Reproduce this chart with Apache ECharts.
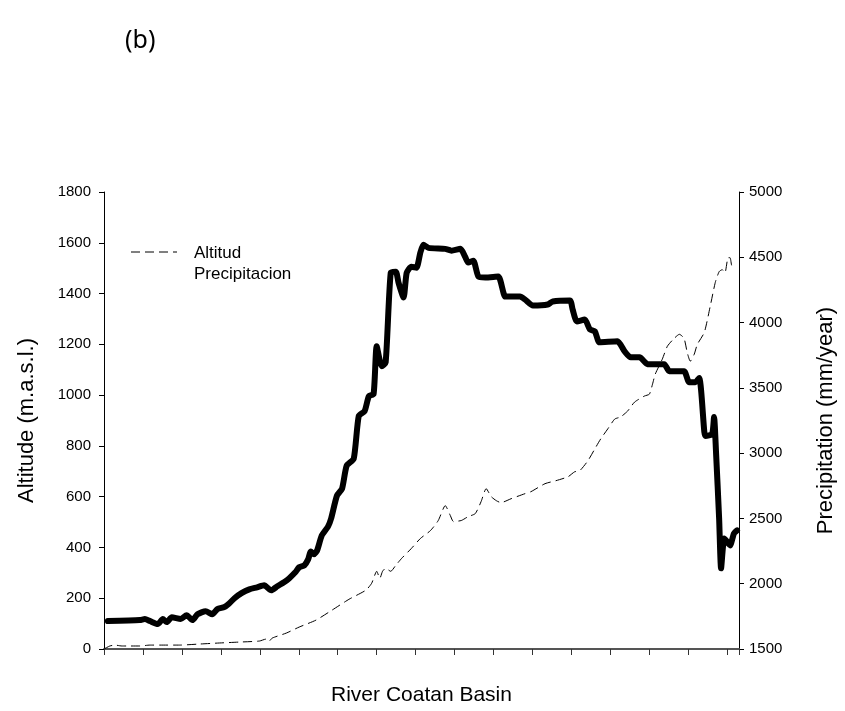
<!DOCTYPE html>
<html>
<head>
<meta charset="utf-8">
<title>River Coatan Basin profile</title>
<script src="https://cdn.jsdelivr.net/npm/echarts@6/dist/echarts.min.js"></script>
<style>
  html, body { margin: 0; padding: 0; background: #fff; }
  #chart { width: 845px; height: 711px; }
</style>
</head>
<body>
<div id="chart"></div>
<script>
// Position along the basin (arbitrary units, ticks every 10) and altitude in m a.s.l.
const altDistance = [1.0, 9.2, 10.5, 11.8, 13.8, 15.1, 16.1, 17.4, 19.7, 21.2, 22.7, 24.0, 26.1, 27.8, 29.1, 30.9, 31.9, 33.5, 35.3, 37.3, 39.3, 41.1, 42.9, 44.5, 46.2, 47.5, 49.1, 50.1, 51.4, 52.4, 53.1, 53.9, 54.7, 55.9, 57.5, 58.3, 59.8, 61.1, 62.3, 64.1, 65.4, 66.9, 68.0, 69.2, 70.0, 71.3, 72.3, 73.6, 74.9, 75.6, 76.9, 77.7, 78.9, 80.2, 81.2, 82.0, 83.3, 87.6, 89.2, 91.5, 92.7, 93.5, 94.8, 96.1, 97.9, 101.2, 103.0, 104.5, 106.8, 108.1, 110.1, 113.9, 115.2, 119.6, 120.3, 121.4, 123.4, 124.7, 126.0, 127.2, 131.8, 133.6, 135.2, 137.5, 139.5, 143.8, 145.1, 148.9, 150.2, 151.8, 152.8, 154.1, 154.4, 156.1, 156.6, 157.1, 157.9, 158.4, 159.2, 159.9, 160.7, 161.7, 162.5];
const altitude = [110, 114, 118, 110, 98, 118, 106, 125, 118, 133, 114, 137, 149, 137, 157, 165, 176, 200, 220, 235, 243, 251, 231, 247, 263, 278, 302, 322, 329, 353, 384, 373, 388, 447, 482, 514, 604, 631, 722, 749, 918, 937, 996, 1004, 1192, 1114, 1129, 1482, 1486, 1443, 1384, 1482, 1506, 1502, 1561, 1592, 1580, 1576, 1569, 1576, 1545, 1522, 1529, 1467, 1463, 1467, 1388, 1388, 1388, 1376, 1353, 1357, 1369, 1373, 1337, 1290, 1298, 1259, 1251, 1208, 1212, 1173, 1149, 1149, 1122, 1122, 1094, 1094, 1051, 1051, 1067, 855, 839, 847, 914, 776, 514, 318, 435, 424, 408, 455, 467];

// Position along the basin and annual precipitation in mm/year
const precDistance = [0.0, 1.5, 2.8, 4.6, 6.6, 9.2, 11.8, 14.3, 19.4, 24.5, 29.6, 34.7, 39.9, 41.6, 42.4, 43.2, 46.8, 50.1, 54.4, 58.5, 62.9, 67.2, 68.7, 70.0, 70.8, 71.5, 72.3, 73.6, 74.9, 76.4, 78.9, 81.2, 83.8, 85.8, 87.6, 88.9, 89.7, 91.7, 93.5, 95.3, 96.8, 98.1, 99.4, 100.7, 101.9, 104.5, 108.1, 109.6, 113.2, 116.0, 119.1, 120.8, 122.1, 124.2, 126.0, 127.5, 129.3, 131.1, 132.6, 134.4, 136.2, 138.7, 140.0, 140.8, 141.5, 143.3, 144.6, 146.1, 147.7, 148.9, 149.7, 150.5, 151.5, 152.3, 154.1, 155.6, 156.9, 157.9, 158.7, 159.4, 160.2, 160.7, 161.2, 162.0];
const precipitation = [1500, 1523, 1530, 1523, 1523, 1523, 1530, 1530, 1530, 1538, 1546, 1553, 1561, 1576, 1561, 1584, 1622, 1668, 1721, 1797, 1881, 1950, 2003, 2095, 2041, 2095, 2118, 2095, 2141, 2194, 2270, 2346, 2407, 2484, 2598, 2522, 2476, 2484, 2514, 2537, 2629, 2728, 2667, 2636, 2621, 2651, 2690, 2705, 2766, 2789, 2819, 2857, 2865, 2941, 3033, 3109, 3185, 3261, 3277, 3322, 3391, 3437, 3452, 3528, 3605, 3719, 3818, 3871, 3910, 3879, 3772, 3704, 3757, 3833, 3925, 4123, 4306, 4390, 4405, 4382, 4497, 4497, 4428, 4420];

const legendLabels = ['Altitud', 'Precipitacion'];

const altitudeSeries = altDistance.map((d, i) => [d, altitude[i]]);
const precipitationSeries = precDistance.map((d, i) => [d, precipitation[i]]);

const chart = echarts.init(document.getElementById('chart'), null, { renderer: 'canvas' });

const sans = 'Liberation Sans, Arial, sans-serif';
const axisFont = { fontFamily: sans, color: '#000' };
const plainNumber = v => String(v);

chart.setOption({
  animation: false,
  backgroundColor: '#fff',
  grid: { left: 104, right: 103, top: 192, bottom: 60, containLabel: false },
  xAxis: {
    type: 'value',
    min: 0,
    max: 163,
    interval: 10,
    name: 'River Coatan Basin',
    nameLocation: 'middle',
    nameGap: 36,
    nameTextStyle: Object.assign({ fontSize: 21 }, axisFont),
    axisLine: { show: true, lineStyle: { color: '#555', width: 2 } },
    axisTick: { show: true, inside: false, length: 6, lineStyle: { color: '#333', width: 1 } },
    axisLabel: { show: false },
    splitLine: { show: false }
  },
  yAxis: [
    {
      type: 'value',
      position: 'left',
      min: 0,
      max: 1800,
      interval: 200,
      name: 'Altitude (m.a.s.l.)',
      nameLocation: 'middle',
      nameGap: 66,
      nameTextStyle: Object.assign({ fontSize: 22 }, axisFont),
      axisLine: { show: true, lineStyle: { color: '#000', width: 1 } },
      axisTick: { show: true, inside: false, length: 5, lineStyle: { color: '#000' } },
      axisLabel: Object.assign({ fontSize: 15, margin: 13, formatter: plainNumber }, axisFont),
      splitLine: { show: false }
    },
    {
      type: 'value',
      position: 'right',
      min: 1500,
      max: 5000,
      interval: 500,
      name: 'Precipitation (mm/year)',
      nameLocation: 'middle',
      nameGap: 76,
      nameRotate: 90,
      nameTextStyle: Object.assign({ fontSize: 22 }, axisFont),
      axisLine: { show: true, lineStyle: { color: '#000', width: 1 } },
      axisTick: { show: true, inside: false, length: 5, lineStyle: { color: '#000' } },
      axisLabel: Object.assign({ fontSize: 15, margin: 10, formatter: plainNumber }, axisFont),
      splitLine: { show: false }
    }
  ],
  graphic: [
    {
      type: 'text',
      left: 125,
      top: 28,
      style: { text: '(b)', fontSize: 25, fontFamily: 'Noto Sans, Open Sans, sans-serif', fill: '#000' }
    },
    {
      type: 'line',
      shape: { x1: 131, y1: 252, x2: 177, y2: 252 },
      style: { stroke: '#000', lineWidth: 1, lineDash: [9, 5] }
    },
    {
      type: 'text',
      left: 194,
      top: 245,
      style: { text: legendLabels[0], fontSize: 17, fontFamily: sans, fill: '#000' }
    },
    {
      type: 'text',
      left: 194,
      top: 266,
      style: { text: legendLabels[1], fontSize: 17, fontFamily: sans, fill: '#000' }
    }
  ],
  series: [
    {
      name: 'Precipitation',
      type: 'line',
      yAxisIndex: 1,
      data: precipitationSeries,
      showSymbol: false,
      smooth: 0.2,
      lineStyle: { color: '#000', width: 1, type: [9, 5] },
      z: 2
    },
    {
      name: 'Altitude',
      type: 'line',
      yAxisIndex: 0,
      data: altitudeSeries,
      showSymbol: false,
      smooth: 0.2,
      lineStyle: { color: '#000', width: 6, cap: 'round', join: 'round' },
      z: 3
    }
  ]
});
</script>
</body>
</html>
